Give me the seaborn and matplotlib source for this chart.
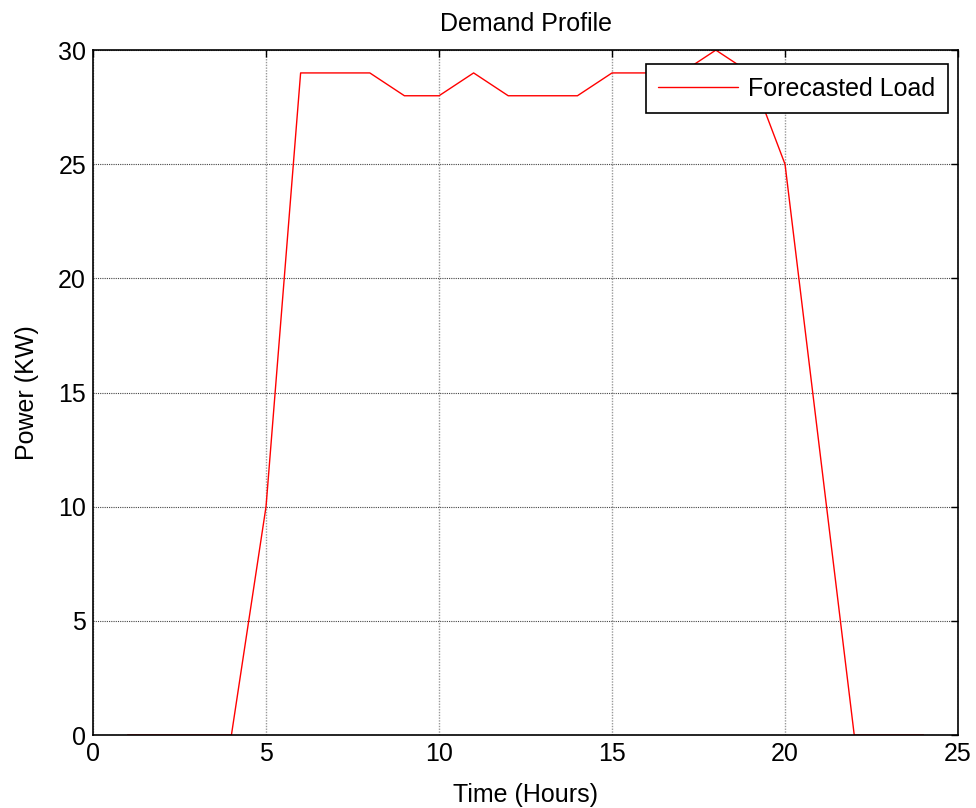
import matplotlib
matplotlib.use("Agg")
import matplotlib.pyplot as plt
import seaborn as sns
import pandas as pd

hours = list(range(1, 25))
load_kw = [0, 0, 0, 0, 10, 29, 29, 29, 28, 28, 29, 28, 28, 28, 29, 29, 29, 30, 29, 25, 12.5, 0, 0, 0]
x_ticks = [0, 5, 10, 15, 20, 25]
y_ticks = [0, 5, 10, 15, 20, 25, 30]

sns.set_style("white")
plt.rcParams['font.family'] = ['Liberation Sans', 'DejaVu Sans']
plt.rcParams['text.color'] = 'black'
plt.rcParams['axes.labelcolor'] = 'black'

df = pd.DataFrame({"Time (Hours)": hours, "Power (KW)": load_kw})

fig = plt.figure(figsize=(9.76, 8.08), dpi=100)
ax = fig.add_axes([0.0953, 0.0903, 0.8863, 0.8477])
sns.lineplot(data=df, x="Time (Hours)", y="Power (KW)", color="red", lw=1.0,
             label="Forecasted Load", ax=ax)

ax.set_xlim(0, 25)
ax.set_ylim(0, 30)
ax.set_xticks(x_ticks)
ax.set_yticks(y_ticks)
ax.tick_params(direction="in", top=True, right=True, labelsize=18, length=5, width=1,
               colors="black", labelcolor="black", pad=5)
for s in ax.spines.values():
    s.set_color("black")
    s.set_linewidth(1.2)
ax.xaxis.grid(True, linestyle=(0, (1, 1)), color="#999999", lw=1.0)
ax.yaxis.grid(True, linestyle=(0, (1, 1)), color="#444444", lw=0.8)
ax.set_axisbelow(True)

ax.set_xlabel("Time (Hours)", fontsize=18, labelpad=12, color="black")
ax.set_ylabel("Power (KW)", fontsize=18, labelpad=14, color="black")
ax.set_title("Demand Profile", fontsize=18, pad=14, color="black")

leg = ax.legend(loc="upper right", fontsize=18, frameon=True, fancybox=False,
                edgecolor="black", framealpha=1, handlelength=3.2, handletextpad=0.4,
                bbox_to_anchor=(0.988, 0.979), borderaxespad=0, borderpad=0.5)
leg.get_frame().set_linewidth(1.2)
for t in leg.get_texts():
    t.set_color("black")

fig.savefig("out.png", dpi=100)
